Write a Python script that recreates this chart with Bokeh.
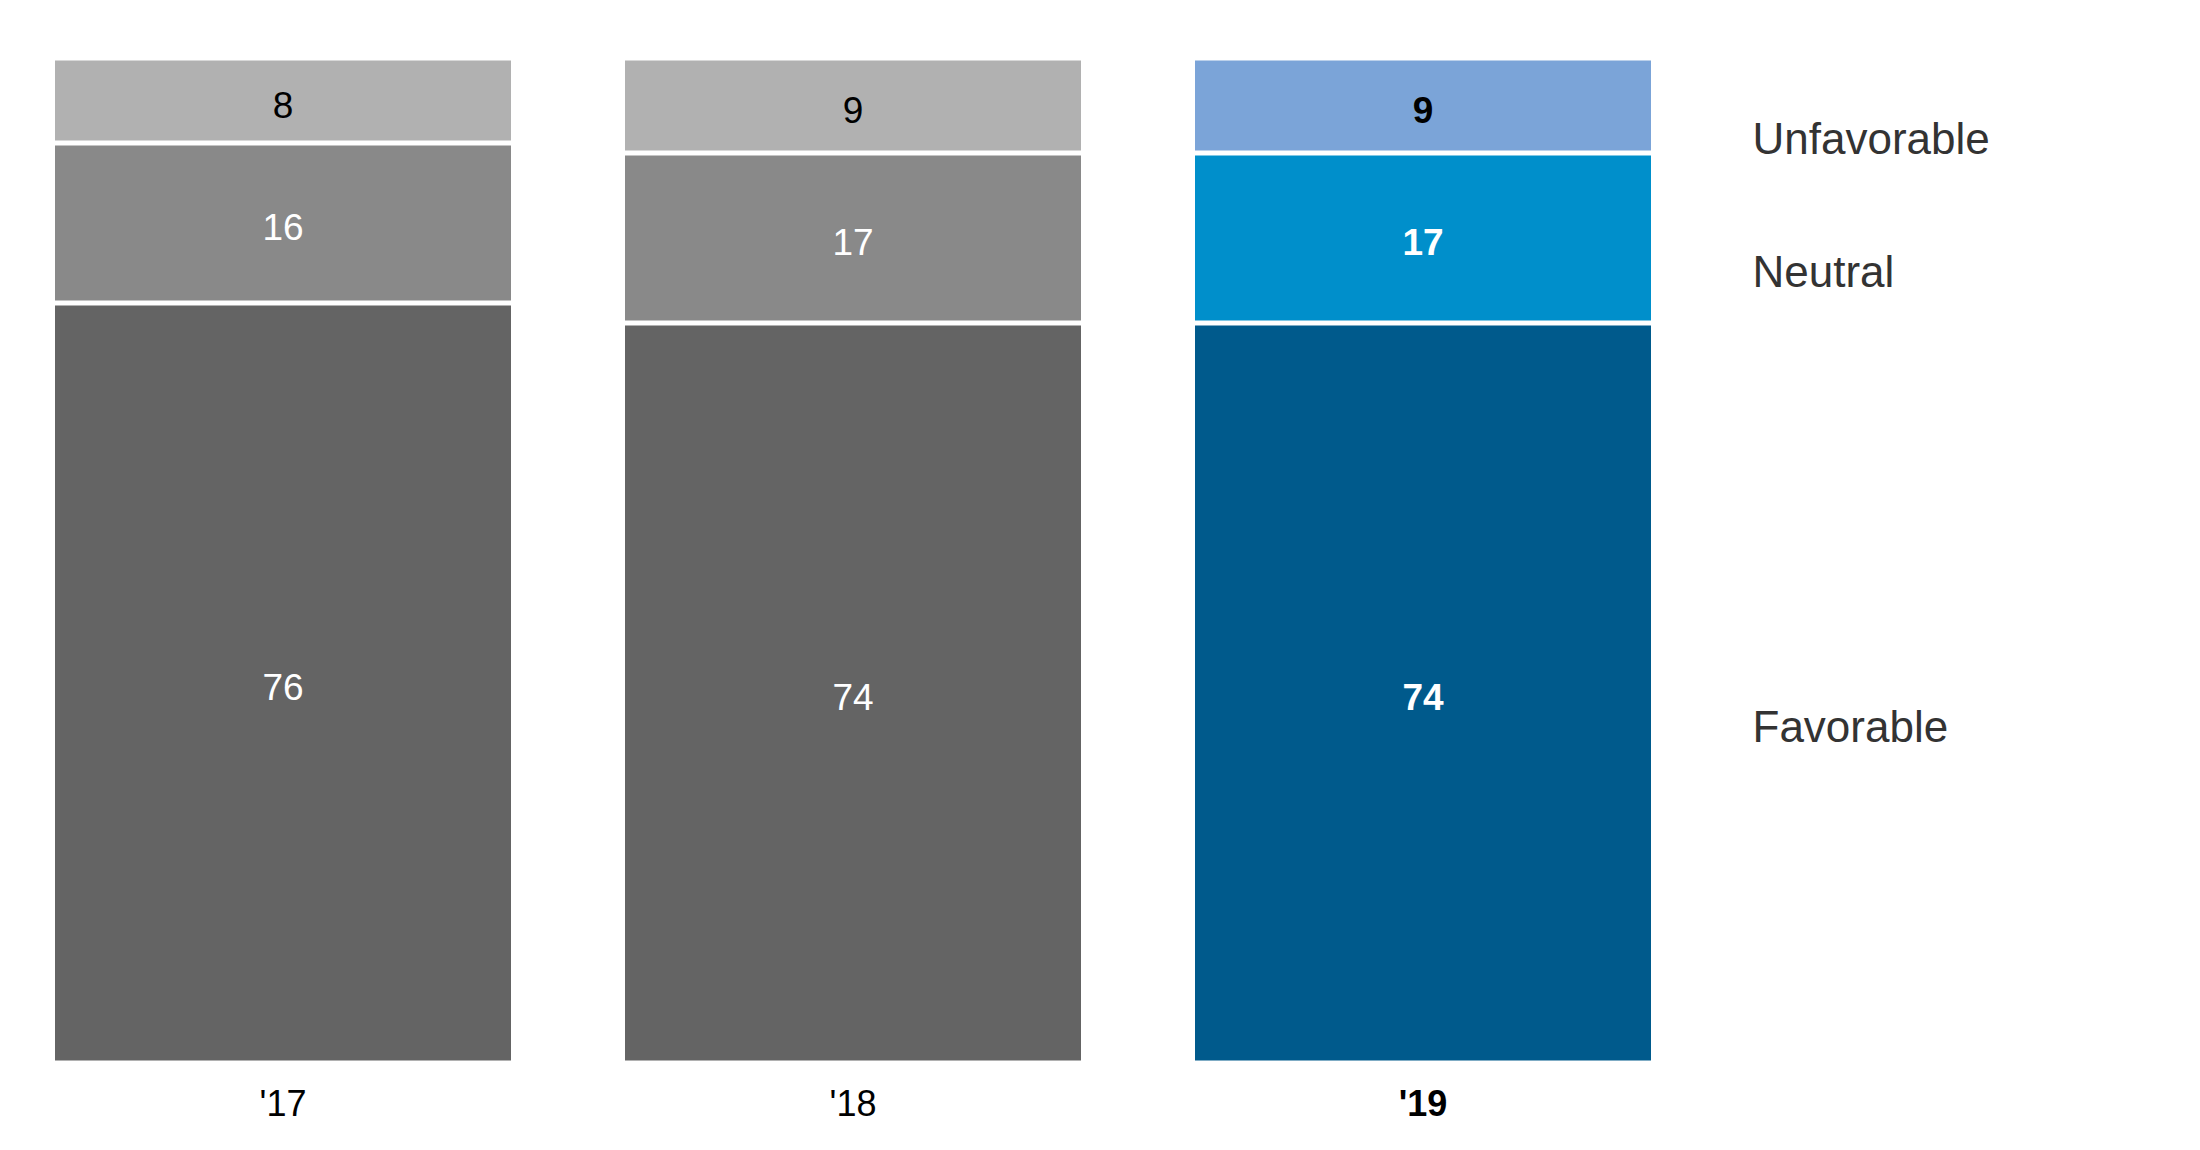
from bokeh.plotting import figure
from bokeh.models import Range1d, ColumnDataSource
from bokeh.core.properties import value, field
from bokeh.embed import file_html
from bokeh.resources import INLINE

# ---- data ----
years = ["'17", "'18", "'19"]
categories = ["Favorable", "Neutral", "Unfavorable"]  # bottom to top
favorable = [76, 74, 74]
neutral = [16, 17, 17]
unfavorable = [8, 9, 9]
highlight = [False, False, True]

gray_colors = {"Favorable": "#646464", "Neutral": "#898989", "Unfavorable": "#b1b1b1"}
blue_colors = {"Favorable": "#005a8c", "Neutral": "#008fcb", "Unfavorable": "#7ba4d8"}
label_colors = {"Favorable": "white", "Neutral": "white", "Unfavorable": "black"}

FONT = "Liberation Sans"
GAP = 0.5  # white separator (data units)

W, H = 2184, 1134
p = figure(width=W, height=H, output_backend="svg", toolbar_location=None,
           x_range=Range1d(-282.5 / 570, -282.5 / 570 + W / 570),
           y_range=Range1d(-(H - 1060) / 10, 106),
           min_border=0, min_border_left=0, min_border_right=0,
           min_border_top=0, min_border_bottom=0)
p.axis.visible = False
p.grid.visible = False
p.outline_line_color = None
p.background_fill_color = "white"
p.border_fill_color = "white"

series = {"Favorable": favorable, "Neutral": neutral, "Unfavorable": unfavorable}
xs = list(range(len(years)))

bottoms = [0.0] * len(years)
rows = {"x": [], "bottom": [], "top": [], "color": [], "mid": [], "text": [],
        "tcolor": [], "fstyle": []}
seg_mid_last = {}
for ci, cat in enumerate(categories):
    vals = series[cat]
    for i, v in enumerate(vals):
        b = bottoms[i]
        t = b + v
        is_top = ci == len(categories) - 1
        t_draw = t if is_top else t - GAP
        rows["x"].append(xs[i])
        rows["bottom"].append(b)
        rows["top"].append(t_draw)
        rows["color"].append(blue_colors[cat] if highlight[i] else gray_colors[cat])
        rows["mid"].append((b + t_draw) / 2)
        rows["text"].append(str(v))
        rows["tcolor"].append(label_colors[cat])
        rows["fstyle"].append("bold" if highlight[i] else "normal")
        if i == len(years) - 1:
            seg_mid_last[cat] = (b + t_draw) / 2
        bottoms[i] = t

src = ColumnDataSource(rows)
p.vbar(x="x", bottom="bottom", top="top", width=0.8, fill_color="color",
       line_color=None, source=src)
p.text(x="x", y="mid", text="text", text_color="tcolor",
       text_font_style=field("fstyle"),
       text_font=value(FONT), text_font_size="37px", text_align="center",
       text_baseline="middle", y_offset=4, source=src)

# tick labels
tick_src = ColumnDataSource(dict(x=xs, y=[0] * len(xs), text=years,
                                 fstyle=["bold" if h else "normal" for h in highlight]))
p.text(x="x", y="y", text="text", text_font_style=field("fstyle"), text_color="black",
       text_font=value(FONT), text_font_size="36px", text_align="center",
       text_baseline="middle", y_offset=43, source=tick_src)

# legend labels
leg_src = ColumnDataSource(dict(x=[xs[-1]] * len(categories),
                                y=[seg_mid_last[c] for c in categories],
                                text=categories))
p.text(x="x", y="y", text="text", text_color="#333333", text_font=value(FONT),
       text_font_size="44px", text_align="left", text_baseline="middle",
       x_offset=329.5, y_offset=33, source=leg_src)

open("out.html", "w").write(file_html(p, INLINE))
